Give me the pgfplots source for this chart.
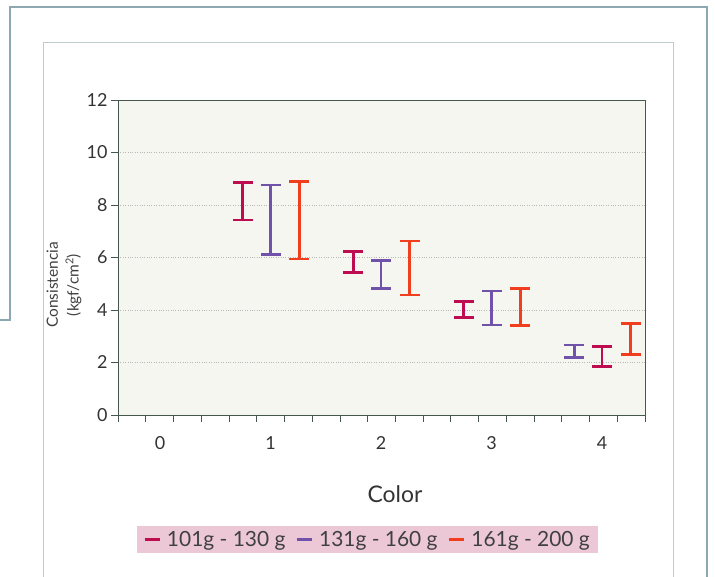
\documentclass[border=0pt]{standalone}
\usepackage{fontspec}
\setmainfont{Lato}
\usepackage{pgfplots}
\pgfplotsset{compat=1.18}
\definecolor{cA}{RGB}{190,12,80}
\definecolor{cB}{RGB}{112,82,170}
\definecolor{cC}{RGB}{240,62,30}
\definecolor{bgplot}{RGB}{246,246,240}
\definecolor{axcol}{RGB}{70,88,78}
\definecolor{legpink}{RGB}{236,200,214}
\definecolor{frameout}{RGB}{140,168,176}
\definecolor{framein}{RGB}{190,204,208}
\begin{document}
\begin{tikzpicture}
\useasboundingbox (0,0) rectangle (715bp,577bp);
% paper frames
\draw[frameout, line width=1.2bp] (10bp,257bp) -- (10bp,570bp) -- (707bp,570bp) -- (707bp,0bp);
\draw[frameout, line width=1.2bp] (0bp,257bp) -- (11bp,257bp);
\draw[framein, line width=1bp] (43bp,0bp) -- (43bp,534bp) -- (673bp,534bp) -- (673bp,0bp);
\begin{axis}[
  at={(118bp,162bp)}, anchor=south west,
  scale only axis, width=527bp, height=315bp,
  xmin=-0.38, xmax=4.389, ymin=0, ymax=12,
  axis background/.style={fill=bgplot},
  axis line style={draw=axcol, line width=0.9bp},
  tick style={draw=axcol, line width=0.8bp},
  tick align=outside, tick pos=left,
  major tick length=7bp,
  ytick={0,2,...,12},
  ymajorgrids, grid style={dotted, gray!55, line width=0.6bp},
  xtick={-0.380,-0.129,0.122,0.373,0.624,0.875,1.126,1.377,1.628,1.879,2.130,2.381,2.632,2.883,3.134,3.385,3.636,3.887,4.138,4.389},
  xticklabels={},
  extra x ticks={0,1,2,3,4},
  extra x tick labels={0,1,2,3,4},
  extra x tick style={tick style={draw=none}, grid=none},
  /pgf/number format/assume math mode=true,
  tick label style={font=\fontsize{18}{20}\selectfont, text=black!80},
  xticklabel style={yshift=-11bp},
  legend style={at={(axis description cs:0.4734,-0.395)}, anchor=center,
    fill=legpink, draw=none, legend columns=3,
    font=\fontsize{21}{23}\selectfont, text=black!75,
    inner xsep=6bp, inner ysep=3bp,
    /tikz/every odd column/.append style={column sep=4bp},
    /tikz/every even column/.append style={column sep=8bp}},
  legend cell align=left,
]
\addplot[cA, draw=none, mark=none,
  legend image code/.code={\draw[cA, line width=2.8bp] (0bp,0bp) -- (15bp,0bp);},
  error bars/.cd, y dir=both, y explicit,
  error bar style={draw=cA, line width=2.8bp},
  error mark options={rotate=90, draw=cA, line width=2.8bp, mark size=10bp}]
  coordinates {(0.75,8.14) +- (0,0.71) (1.75,5.825) +- (0,0.395) (2.75,4.015) +- (0,0.305) (4.0,2.22) +- (0,0.38)};
\addlegendentry{101g - 130 g}
\addplot[cB, draw=none, mark=none,
  legend image code/.code={\draw[cB, line width=2.8bp] (0bp,0bp) -- (15bp,0bp);},
  error bars/.cd, y dir=both, y explicit,
  error bar style={draw=cB, line width=2.8bp},
  error mark options={rotate=90, draw=cB, line width=2.8bp, mark size=10bp}]
  coordinates {(1.0,7.43) +- (0,1.33) (2.0,5.365) +- (0,0.535) (3.0,4.075) +- (0,0.645) (3.75,2.425) +- (0,0.245)};
\addlegendentry{131g - 160 g}
\addplot[cC, draw=none, mark=none,
  legend image code/.code={\draw[cC, line width=2.8bp] (0bp,0bp) -- (15bp,0bp);},
  error bars/.cd, y dir=both, y explicit,
  error bar style={draw=cC, line width=2.8bp},
  error mark options={rotate=90, draw=cC, line width=2.8bp, mark size=10bp}]
  coordinates {(1.26,7.415) +- (0,1.475) (2.26,5.6) +- (0,1.03) (3.26,4.115) +- (0,0.715) (4.26,2.89) +- (0,0.60)};
\addlegendentry{161g - 200 g}
\end{axis}
\node[rotate=90, align=center, font=\fontsize{15.5}{21}\selectfont, text=black!75] at (64bp,292bp) {Consistencia\\(kgf/cm\textsuperscript{2})};
\node[font=\fontsize{23}{25}\selectfont, text=black!80] at (395bp,83bp) {Color};
\end{tikzpicture}
\end{document}
